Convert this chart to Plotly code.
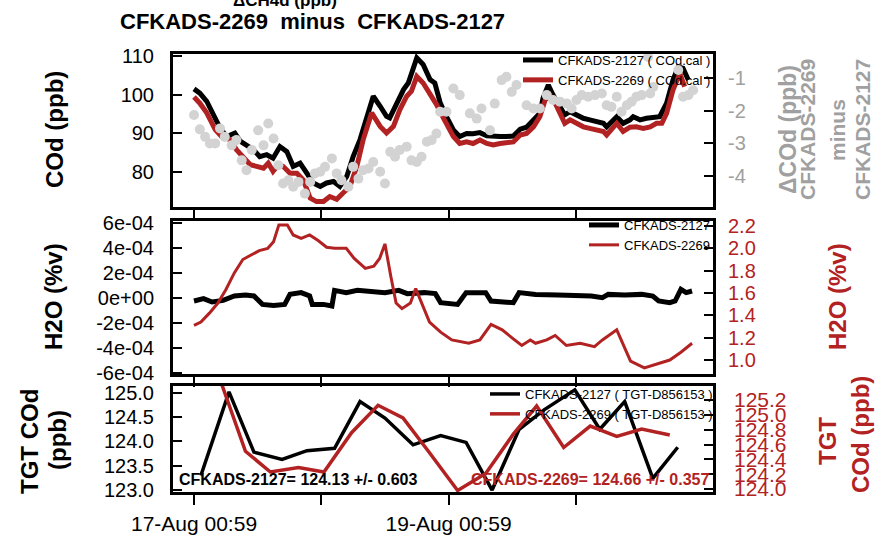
import datetime as dt
import plotly.graph_objects as go

T0 = dt.datetime(2021, 8, 17, 0, 59)

# ---------------- data (hours since 17-Aug 00:59) ----------------
cod_2127_h = [0, 1.1, 2.4, 4.0, 4.9, 6.2, 7.7, 8.7, 9.9, 11.2, 12.4, 13.7, 14.9, 16.2, 17.5, 18.7, 20.0, 21.2,
              22.5, 23.8, 25.0, 26.3, 27.5, 28.8, 30.0, 31.3, 32.6, 33.8, 35.1, 36.3, 36.9, 38.2, 39.5, 40.4,
              41.3, 42.0, 43.2, 44.5, 45.4, 46.4, 47.6, 48.9, 50.1, 51.4, 52.6, 53.9, 55.2, 56.4, 57.7, 58.9,
              60.2, 61.5, 62.7, 64.0, 65.2, 65.8, 66.8, 67.7, 69.0, 69.9, 70.9, 72.1, 73.4, 74.6, 75.9, 77.2,
              77.8, 79.0, 79.7, 80.9, 82.2, 82.8, 84.1, 85.3, 86.6, 87.8, 89.1, 90.3, 91.3, 92.2, 93.2]
cod_2127 = [101.5, 100.4, 98.3, 93.5, 91.4, 89.2, 90.1, 88.0, 87.0, 85.8, 84.0, 84.5, 83.6, 86.6, 85.3, 81.5,
            82.3, 79.7, 77.2, 76.3, 77.2, 77.6, 76.3, 78.9, 84.0, 88.4, 94.4, 99.6, 97.0, 94.4, 94.0, 97.8,
            101.3, 103.0, 107.3, 109.5, 107.8, 103.9, 103.0, 98.0, 94.3, 90.9, 89.2, 90.0, 89.9, 90.2, 89.4,
            89.2, 89.2, 89.2, 89.3, 91.1, 91.6, 93.5, 95.2, 99.1, 102.5, 99.9, 96.9, 94.8, 95.6, 94.8, 93.9,
            93.5, 93.0, 92.6, 91.7, 93.5, 94.3, 92.6, 93.5, 94.3, 93.5, 93.9, 94.2, 94.3, 97.8, 103.8, 107.2,
            106.8, 103.8]

cod_2269_h = [0, 1.1, 2.4, 4.0, 5.2, 6.8, 8.0, 9.3, 10.6, 11.8, 13.1, 14.0, 14.9, 15.9, 16.8, 18.1, 19.4, 20.6,
              21.9, 23.1, 24.4, 25.6, 26.9, 28.1, 29.4, 30.7, 31.9, 33.5, 35.1, 36.3, 37.6, 38.8, 40.1, 41.0,
              42.0, 43.2, 44.5, 45.7, 47.0, 48.3, 48.9, 50.1, 51.4, 52.6, 53.9, 55.2, 56.4, 57.7, 58.9, 60.2,
              61.5, 62.7, 64.0, 65.2, 66.2, 67.1, 68.1, 69.0, 69.9, 70.9, 72.1, 73.4, 74.6, 75.9, 77.2, 77.8,
              79.0, 79.7, 80.9, 82.2, 83.4, 84.7, 86.0, 87.2, 88.2, 89.1, 90.3, 91.6, 92.5]
cod_2269 = [99.4, 97.8, 95.3, 91.0, 89.2, 88.4, 85.8, 83.6, 81.9, 81.5, 81.0, 82.3, 80.2, 81.9, 81.5, 79.7,
            79.7, 78.0, 73.3, 72.4, 72.4, 73.7, 73.0, 74.6, 76.3, 81.5, 88.4, 95.3, 91.8, 90.1, 91.8, 96.1,
            99.6, 100.9, 104.7, 103.0, 100.4, 97.5, 94.0, 90.5, 89.2, 87.4, 87.8, 87.4, 88.3, 87.4, 87.0,
            87.4, 87.6, 87.8, 89.6, 90.0, 91.7, 94.3, 98.6, 99.9, 97.8, 94.8, 92.6, 93.5, 92.6, 91.7, 91.3,
            90.9, 90.5, 89.6, 91.7, 92.6, 90.5, 91.6, 91.7, 91.3, 91.7, 92.6, 92.6, 95.2, 101.2, 105.5, 102.1]

dcod_h = [0, 1.1, 2.1, 3.0, 4.0, 4.9, 5.8, 7.1, 8.0, 9.0, 9.9, 10.9, 12.1, 13.1, 14.0, 15.0, 15.9, 16.8, 17.8,
          18.7, 19.7, 20.9, 21.9, 22.8, 23.8, 24.7, 26.0, 26.9, 27.8, 29.1, 30.0, 31.0, 31.9, 32.9, 33.8, 35.1,
          36.0, 37.0, 37.9, 38.8, 40.1, 41.0, 42.0, 42.9, 43.9, 44.8, 45.7, 46.4, 47.6, 48.9, 50.1, 52.0, 53.3,
          54.2, 55.8, 56.7, 58.0, 58.9, 59.9, 60.8, 62.7, 64.0, 65.2, 66.5, 67.7, 69.0, 70.3, 71.2, 72.1, 73.1,
          74.3, 75.6, 76.9, 77.8, 78.7, 79.7, 80.6, 81.6, 82.5, 83.4, 84.4, 85.6, 86.0, 86.6, 91.3, 92.2, 93.2,
          94.1]
dcod = [-2.13, -2.57, -2.8, -3.0, -3.0, -2.54, -2.8, -3.06, -2.9, -3.52, -3.82, -3.2, -2.6, -3.06, -2.39,
        -2.85, -3.67, -4.23, -4.13, -4.33, -4.18, -4.54, -4.18, -3.92, -3.87, -3.72, -3.46, -3.92, -4.13,
        -4.33, -3.72, -4.08, -3.82, -3.77, -3.57, -3.87, -4.23, -3.26, -3.41, -3.2, -3.1, -3.52, -3.57,
        -3.41, -2.95, -2.9, -2.7, -2.03, -2.03, -1.32, -1.52, -2.08, -2.24, -1.93, -2.6, -1.78, -1.06,
        -0.96, -1.42, -1.21, -1.83, -1.93, -1.93, -1.52, -1.67, -1.72, -1.78, -1.93, -1.67, -1.52, -1.57,
        -1.52, -1.47, -1.83, -1.88, -1.57, -2.03, -1.83, -1.72, -1.57, -1.52, -0.35, -1.47, -1.27, -0.75,
        -1.57, -1.52, -1.37]

h2o_2127_h = [0, 1.8, 3.4, 5.5, 7.6, 9.7, 11.3, 12.9, 15.0, 17.1, 18.1, 20.2, 21.8, 22.3, 24.4, 26.0, 26.5,
              28.7, 30.8, 32.9, 36.0, 38.6, 40.2, 43.4, 45.5, 46.5, 49.7, 51.3, 55.0, 56.0, 60.2, 61.3, 64.4,
              68.6, 72.8, 74.9, 77.0, 78.1, 81.2, 84.4, 86.5, 87.6, 89.7, 90.7, 91.8, 92.8, 93.9]
h2o_2127 = [-2.4e-5, -0.5e-5, -3.2e-5, -1.9e-5, 1.6e-5, 2.4e-5, 1.6e-5, -5.1e-5, -5.9e-5, -5.1e-5, 2.9e-5,
            4.3e-5, 1.6e-5, -5.1e-5, -5.1e-5, -6.4e-5, 6.1e-5, 4.3e-5, 6.1e-5, 5.6e-5, 4.3e-5, 6.1e-5,
            3.5e-5, 4.3e-5, 3.5e-5, -3.7e-5, -5.1e-5, 4.3e-5, 4.3e-5, -2.4e-5, -3.7e-5, 4.3e-5, 2.9e-5,
            2.4e-5, 2.4e-5, 1.6e-5, 0.3e-5, 2.9e-5, 2.4e-5, 2.9e-5, 1.6e-5, -2.4e-5, -3.7e-5, -2.4e-5,
            6.9e-5, 4.3e-5, 5.6e-5]

h2o_2269_h = [0, 1.3, 2.9, 4.5, 6.0, 7.6, 9.2, 10.8, 12.3, 13.9, 15.0, 16.0, 17.6, 18.7, 20.2, 21.8, 23.4,
              25.0, 26.5, 28.7, 30.2, 32.3, 33.9, 35.0, 36.0, 37.1, 38.1, 39.2, 40.8, 41.8, 43.4, 44.4, 46.5,
              48.6, 51.8, 53.9, 56.0, 58.1, 60.2, 61.8, 63.4, 64.4, 66.5, 68.1, 70.2, 72.8, 75.5, 77.0, 79.7,
              82.3, 84.9, 87.6, 89.7, 91.8, 93.9]
h2o_2269 = [1.31, 1.34, 1.42, 1.51, 1.63, 1.78, 1.90, 1.94, 1.98, 2.00, 2.06, 2.21, 2.21, 2.12, 2.09, 2.12,
            2.07, 2.01, 2.00, 2.00, 1.91, 1.82, 1.84, 1.91, 2.04, 1.75, 1.51, 1.46, 1.51, 1.64, 1.45, 1.34,
            1.25, 1.18, 1.15, 1.18, 1.32, 1.27, 1.19, 1.13, 1.18, 1.15, 1.18, 1.22, 1.13, 1.15, 1.12, 1.18,
            1.27, 0.99, 0.93, 0.97, 1.00, 1.07, 1.15]

tgt_2127_h = [1.3, 6.6, 11.3, 16.6, 21.3, 26.5, 31.3, 36.0, 41.3, 46.5, 51.3, 56.2, 61.3, 66.0, 71.8, 76.5,
              81.2, 86.5, 91.2]
tgt_2127 = [123.3, 125.02, 123.78, 123.63, 123.81, 123.86, 124.82, 124.48, 123.93, 124.12, 123.98, 123.0,
            124.25, 124.65, 125.06, 124.25, 124.82, 123.24, 123.88]
tgt_2269_h = [4.8, 9.7, 14.4, 19.7, 24.5, 29.7, 34.7, 39.4, 44.4, 49.7, 55.0, 60.2, 64.6, 69.7, 74.7, 79.7,
              84.4, 89.7]
tgt_2269 = [125.5, 124.51, 124.23, 124.29, 124.23, 124.76, 125.13, 124.96, 124.49, 123.98, 124.21, 124.74,
            125.12, 124.56, 124.85, 124.71, 124.81, 124.73]

tick_days = [0, 1, 2, 3]
tick_text = ["17-Aug 00:59", "", "19-Aug 00:59", ""]

cod_ticks = [80, 90, 100, 110]
dcod_ticks = [-1, -2, -3, -4]
dcod_ticktext = ["-1", "-2", "-3", "-4"]
h2o_ticks = [6e-4, 4e-4, 2e-4, 0, -2e-4, -4e-4, -6e-4]
h2o_ticktext = ["6e-04", "4e-04", "2e-04", "0e+00", "-2e-04", "-4e-04", "-6e-04"]
h2o_r_ticks = [2.2, 2.0, 1.8, 1.6, 1.4, 1.2, 1.0]
tgt_ticks = [125.0, 124.5, 124.0, 123.5, 123.0]
tgt_r_ticks = [125.2, 125.0, 124.8, 124.6, 124.4, 124.2, 124.0]

RED = "#B22222"
GRAY_TXT = "#A0A0A0"
GRAY_PT = "#D3D3D3"
FONT = "Liberation Sans, Arial, Helvetica, sans-serif"
W, H = 875, 537


def ts(hours):
    return [T0 + dt.timedelta(hours=h) for h in hours]


def px(x):
    return x / W


def py(y):
    return 1 - y / H


fig = go.Figure()

# top panel
fig.add_trace(go.Scatter(x=ts(cod_2127_h), y=cod_2127, mode="lines", line=dict(color="black", width=5),
                         name="CFKADS-2127 ( COd.cal )", xaxis="x", yaxis="y", legend="legend"))
fig.add_trace(go.Scatter(x=ts(cod_2269_h), y=cod_2269, mode="lines", line=dict(color=RED, width=5),
                         name="CFKADS-2269 ( COd.cal )", xaxis="x", yaxis="y", legend="legend"))
fig.add_trace(go.Scatter(x=ts(dcod_h), y=dcod, mode="markers", marker=dict(color=GRAY_PT, size=10),
                         showlegend=False, xaxis="x", yaxis="y2"))
# middle panel
fig.add_trace(go.Scatter(x=ts(h2o_2127_h), y=h2o_2127, mode="lines", line=dict(color="black", width=5),
                         name="CFKADS-2127", xaxis="x2", yaxis="y3", legend="legend2"))
fig.add_trace(go.Scatter(x=ts(h2o_2269_h), y=h2o_2269, mode="lines", line=dict(color=RED, width=3),
                         name="CFKADS-2269", xaxis="x2", yaxis="y4", legend="legend2"))
# bottom panel
fig.add_trace(go.Scatter(x=ts(tgt_2127_h), y=tgt_2127, mode="lines", line=dict(color="black", width=3.5),
                         name="CFKADS-2127 ( TGT-D856153 )", xaxis="x3", yaxis="y5", legend="legend3"))
fig.add_trace(go.Scatter(x=ts(tgt_2269_h), y=tgt_2269, mode="lines", line=dict(color=RED, width=3.5),
                         name="CFKADS-2269 ( TGT-D856153 )", xaxis="x3", yaxis="y6", legend="legend3"))

xr = [T0 - dt.timedelta(days=0.165), T0 + dt.timedelta(days=4.077)]
xdom = [px(173), px(713)]
tickdates = [T0 + dt.timedelta(days=d) for d in tick_days]


def xaxis(anchor, labels):
    return dict(domain=xdom, anchor=anchor, type="date", range=xr, tickmode="array", tickvals=tickdates,
                ticktext=tick_text, showticklabels=labels, ticks="outside", ticklen=10, tickwidth=1.5,
                tickcolor="black", showline=True, mirror=True, linewidth=3, linecolor="black",
                showgrid=False, zeroline=False, tickfont=dict(size=21, color="black"),
                ticklabelstandoff=1, automargin=False)


def yleft(dom, rng, vals, text, anchor):
    return dict(domain=dom, anchor=anchor, range=rng, tickmode="array", tickvals=vals, ticktext=text,
                ticks="inside", ticklen=9, tickwidth=1.5, tickcolor="black", showline=True, mirror=True,
                linewidth=3, linecolor="black", showgrid=False, zeroline=False,
                tickfont=dict(size=20, color="black"), ticklabelstandoff=12, automargin=False)


def yright(over, rng, vals, text, anchor, color, size=20, standoff=14):
    return dict(overlaying=over, side="right", anchor=anchor, range=rng, tickmode="array", tickvals=vals,
                ticktext=text, ticks="inside", ticklen=9, tickwidth=1.5, tickcolor="black",
                showline=False, showgrid=False, zeroline=False,
                tickfont=dict(size=size, color=color), ticklabelstandoff=standoff, automargin=False)


top_dom = [py(207), py(54)]
mid_dom = [py(374), py(221)]
bot_dom = [py(492), py(386)]

annotations = []


def ann(text, x, y, size, color="black", angle=0, bold=True, xanchor="center"):
    annotations.append(dict(text=f"<b>{text}</b>" if bold else text, x=px(x), y=py(y), xref="paper",
                            yref="paper", showarrow=False, textangle=angle, xanchor=xanchor,
                            yanchor="middle", font=dict(size=size, color=color, family=FONT)))


ann("ΔCH4d (ppb)", 285, 0, 17)
ann("CFKADS-2269  minus  CFKADS-2127", 312, 22, 22)
ann("COd (ppb)", 55, 130, 24, angle=-90)
ann("H2O (%v)", 53, 297, 24, angle=-90)
ann("TGT COd", 29, 441, 24, angle=-90)
ann("(ppb)", 57, 440, 24, angle=-90)
ann("ΔCOd (ppb)", 788, 130, 23, GRAY_TXT, angle=-90)
ann("CFKADS-2269", 808, 130, 21, GRAY_TXT, angle=-90)
ann("minus", 838, 130, 21, GRAY_TXT, angle=-90)
ann("CFKADS-2127", 863, 130, 21, GRAY_TXT, angle=-90)
ann("H2O (%v)", 837, 297, 24, RED, angle=-90)
ann("TGT", 827, 441, 24, RED, angle=-90)
ann("COd (ppb)", 860, 435, 24, RED, angle=-90)
ann("CFKADS-2127= 124.13 +/- 0.603", 177, 480, 16, "black", xanchor="left")
ann("CFKADS-2269= 124.66 +/- 0.357", 711, 480, 16, RED, xanchor="right")


def legend(x, y):
    return dict(x=px(x), y=py(y), xref="paper", yref="paper", xanchor="left", yanchor="top",
                bgcolor="rgba(0,0,0,0)", borderwidth=0, font=dict(size=13, color="black", family=FONT),
                itemwidth=30, tracegroupgap=0)


fig.update_layout(
    width=W, height=H, autosize=False,
    margin=dict(l=0, r=0, t=0, b=0, autoexpand=False),
    paper_bgcolor="white", plot_bgcolor="rgba(0,0,0,0)",
    font=dict(family=FONT, color="black"),
    xaxis=xaxis("y", False),
    xaxis2=xaxis("y3", False),
    xaxis3=xaxis("y5", True),
    yaxis=yleft(top_dom, [71, 110.5], cod_ticks, [str(v) for v in cod_ticks], "x"),
    yaxis2=yright("y", [-4.95, -0.26], dcod_ticks, dcod_ticktext, "x", GRAY_TXT),
    yaxis3=yleft(mid_dom, [-6.08e-4, 6.16e-4], h2o_ticks, h2o_ticktext, "x2"),
    yaxis4=yright("y3", [0.875, 2.245], h2o_r_ticks, [f"{v:.1f}" for v in h2o_r_ticks], "x2", RED),
    yaxis5=yleft(bot_dom, [122.96, 125.14], tgt_ticks, [f"{v:.1f}" for v in tgt_ticks], "x3"),
    yaxis6=yright("y5", [123.96, 125.39], tgt_r_ticks, [f"{v:.1f}" for v in tgt_r_ticks], "x3", RED,
                  size=21, standoff=20),
    legend=legend(518, 45),
    legend2=legend(584, 210),
    legend3=legend(485, 379),
    annotations=annotations,
    showlegend=True,
)

fig.write_html("out.html", config={"displayModeBar": False},
               post_script="document.body.style.margin='0px';document.body.style.overflow='hidden';")
